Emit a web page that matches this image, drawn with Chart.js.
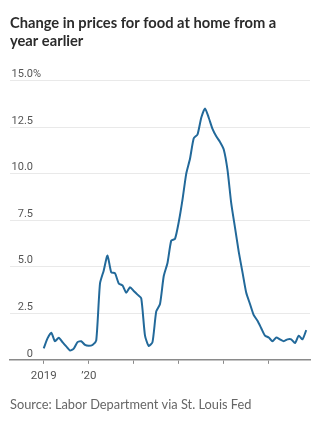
<!DOCTYPE html>
<html>
<head>
<meta charset="utf-8">
<script src="https://cdn.jsdelivr.net/npm/chart.js@4"></script>
<style>
  html, body { margin: 0; padding: 0; background: #fff; }
  #wrap { position: relative; width: 325px; height: 421px; }
</style>
</head>
<body>
<div id="wrap"><canvas id="foodChart"></canvas></div>
<script>
// food at home, % change from a year earlier, monthly from Jan 2019
const values2019 = [0.62, 1.15, 1.46, 1.0, 1.19, 0.95, 0.72, 0.5, 0.6, 0.95, 1.0, 0.8];
const values2020 = [0.75, 0.8, 1.05, 4.1, 4.8, 5.6, 4.7, 4.65, 4.1, 4.0, 3.6, 3.9];
const values2021 = [3.7, 3.5, 3.3, 1.3, 0.75, 0.95, 2.6, 3.0, 4.5, 5.2, 6.4, 6.5];
const values2022 = [7.4, 8.6, 10.0, 10.8, 11.9, 12.1, 13.0, 13.5, 13.0, 12.4, 12.0, 11.7];
const values2023 = [11.3, 10.2, 8.4, 7.1, 5.8, 4.7, 3.6, 3.0, 2.4, 2.1, 1.7, 1.3];
const values2024 = [1.2, 1.0, 1.2, 1.1, 1.0, 1.1, 1.1, 0.9, 1.3, 1.1, 1.6];

const yTickValues = [0, 2.5, 5, 7.5, 10, 12.5, 15];
const yTickLabels = ['0', '2.5', '5.0', '7.5', '10.0', '12.5', '15.0'];
const yUnit = '%';                                  // only on the top label
const xTickValues = [0, 12, 24, 36, 48, 60];       // months since Jan 2019
const xTickLabels = ['2019', '\u201920', '', '', '', ''];

const series = [].concat(values2019, values2020, values2021, values2022, values2023, values2024);
const points = series.map((v, i) => ({ x: i, y: v }));

const axisColor = '#8a8a8a';
const gridColor = '#e9e9e9';
const textColor = '#555';

// y labels sit just above their gridline, numbers right-aligned, % hanging off the top one
const yLabelsPlugin = {
    id: 'yLabels',
    afterDraw(chart) {
        const y = chart.scales.y;
        const c = chart.ctx;
        const right = chart.chartArea.left + 23;
        c.save();
        c.font = '11px Roboto';
        c.fillStyle = textColor;
        c.textBaseline = 'middle';
        yTickValues.forEach((v, i) => {
            const py = y.getPixelForValue(v) - 6;
            c.textAlign = 'right';
            c.fillText(yTickLabels[i], right, py);
            if (i === yTickValues.length - 1) {
                c.textAlign = 'left';
                c.fillText(yUnit, right, py);
            }
        });
        c.restore();
    }
};

const ctx = document.getElementById('foodChart').getContext('2d');
new Chart(ctx, {
    type: 'line',
    data: {
        datasets: [{
            data: points,
            borderColor: '#22699a',
            borderWidth: 2,
            pointRadius: 0,
            tension: 0.2,
            fill: false
        }]
    },
    plugins: [yLabelsPlugin],
    options: {
        responsive: true,
        maintainAspectRatio: false,
        animation: false,
        layout: { padding: { left: 10, right: 15, top: 0, bottom: 0 } },
        scales: {
            x: {
                type: 'linear',
                min: -9,
                max: 71,
                afterBuildTicks: axis => {
                    axis.ticks = xTickValues.map(v => ({ value: v }));
                },
                ticks: {
                    autoSkip: false,
                    maxRotation: 0,
                    padding: 5,
                    color: textColor,
                    font: { family: 'Roboto', size: 11.5 },
                    callback: value => xTickLabels[xTickValues.indexOf(value)]
                },
                grid: {
                    drawOnChartArea: false,
                    drawTicks: true,
                    tickLength: 4,
                    color: axisColor
                },
                border: { display: true, color: axisColor, width: 1.5 }
            },
            y: {
                min: 0,
                max: 15,
                afterBuildTicks: axis => {
                    axis.ticks = yTickValues.map(v => ({ value: v }));
                },
                ticks: { display: false },
                grid: {
                    drawTicks: false,
                    color: c => (c.tick && c.tick.value === 0) ? 'rgba(0,0,0,0)' : gridColor
                },
                border: { display: false }
            }
        },
        plugins: {
            legend: { display: false },
            tooltip: { enabled: false },
            title: {
                display: true,
                text: ['Change in prices for food at home from a', 'year earlier'],
                align: 'start',
                color: '#2b2b2b',
                font: { family: 'Lato', size: 14.7, weight: 'bold', lineHeight: 1.19 },
                padding: { top: 15, bottom: 30.5 }
            },
            subtitle: {
                display: true,
                position: 'bottom',
                text: 'Source: Labor Department via St. Louis Fed',
                align: 'start',
                color: '#666',
                font: { family: 'Lato', size: 12.8, lineHeight: 1.2 },
                padding: { top: 10, bottom: 8 }
            }
        }
    }
});
</script>
</body>
</html>
